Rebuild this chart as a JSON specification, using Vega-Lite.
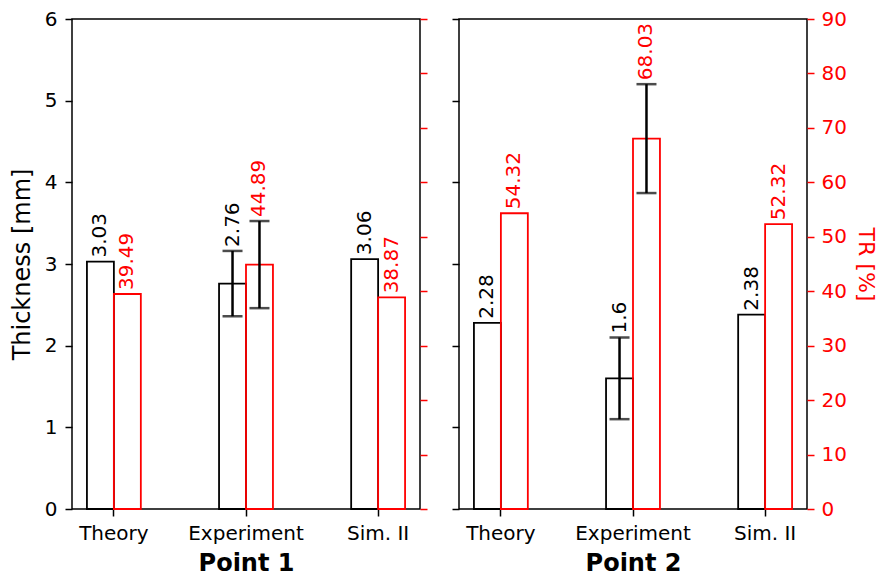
{
  "$schema": "https://vega.github.io/schema/vega-lite/v6.json",
  "padding": {"left": 9, "top": 8, "right": 3, "bottom": 2},
  "spacing": 21,
  "config": {
    "font": "DejaVu Sans",
    "view": {"stroke": "black", "strokeWidth": 1.5},
    "axis": {
      "grid": false, "domain": false,
      "tickColor": "black", "tickWidth": 1.5, "tickSize": 7,
      "labelFont": "DejaVu Sans", "labelFontSize": 20, "labelColor": "black", "labelPadding": 6,
      "titleFont": "DejaVu Sans", "titleFontSize": 24, "titleFontWeight": "normal", "titleColor": "black"
    }
  },
  "data": {"values": [
    {"point": "Point 1", "category": "Theory", "measure": "Thickness", "value": 3.03, "top": 3.03, "label": "3.03"},
    {"point": "Point 1", "category": "Theory", "measure": "TR", "value": 39.49, "top": 39.49, "label": "39.49"},
    {"point": "Point 1", "category": "Experiment", "measure": "Thickness", "value": 2.76, "lo": 2.36, "hi": 3.16, "top": 3.16, "label": "2.76"},
    {"point": "Point 1", "category": "Experiment", "measure": "TR", "value": 44.89, "lo": 36.89, "hi": 52.89, "top": 52.89, "label": "44.89"},
    {"point": "Point 1", "category": "Sim. II", "measure": "Thickness", "value": 3.06, "top": 3.06, "label": "3.06"},
    {"point": "Point 1", "category": "Sim. II", "measure": "TR", "value": 38.87, "top": 38.87, "label": "38.87"},
    {"point": "Point 2", "category": "Theory", "measure": "Thickness", "value": 2.28, "top": 2.28, "label": "2.28"},
    {"point": "Point 2", "category": "Theory", "measure": "TR", "value": 54.32, "top": 54.32, "label": "54.32"},
    {"point": "Point 2", "category": "Experiment", "measure": "Thickness", "value": 1.6, "lo": 1.1, "hi": 2.1, "top": 2.1, "label": "1.6"},
    {"point": "Point 2", "category": "Experiment", "measure": "TR", "value": 68.03, "lo": 58.03, "hi": 78.03, "top": 78.03, "label": "68.03"},
    {"point": "Point 2", "category": "Sim. II", "measure": "Thickness", "value": 2.38, "top": 2.38, "label": "2.38"},
    {"point": "Point 2", "category": "Sim. II", "measure": "TR", "value": 52.32, "top": 52.32, "label": "52.32"}
  ]},
  "hconcat": [
    {
      "width": 348, "height": 490,
      "transform": [{"filter": "datum.point === 'Point 1'"}],
      "encoding": {
        "x": {"field": "category", "type": "nominal", "sort": ["Theory", "Experiment", "Sim. II"], "scale": {"paddingInner": 0.592, "paddingOuter": 0.113},
              "axis": {"title": "Point 1", "labelAngle": 0, "titleFontWeight": "bold", "titleFontSize": 24, "titlePadding": 8, "labelPadding": 7}},
        "xOffset": {"field": "measure", "type": "nominal", "scale": {"domain": ["Thickness", "TR"], "paddingInner": 0, "paddingOuter": 0}}
      },
      "layer": [
        {
          "transform": [{"filter": "datum.measure === 'Thickness'"}],
          "layer": [
            {"mark": {"type": "bar", "fill": "white", "stroke": "black", "strokeWidth": 1.8},
             "encoding": {
               "y": {"field": "value", "type": "quantitative", "scale": {"domain": [0, 6]},
                     "axis": {"title": "Thickness [mm]", "values": [0, 1, 2, 3, 4, 5, 6], "labelPadding": 8, "titlePadding": 10}}
             }},
            {"transform": [{"filter": "isValid(datum.lo)"}],
             "mark": {"type": "rule", "color": "black", "strokeWidth": 2.5},
             "encoding": {
               "y": {"field": "lo", "type": "quantitative", "axis": {"title": "Thickness [mm]", "values": [0, 1, 2, 3, 4, 5, 6], "labelPadding": 8, "titlePadding": 10}},
               "y2": {"field": "hi"}
             }},
            {"transform": [{"filter": "isValid(datum.lo)"}],
             "mark": {"type": "tick", "color": "black", "thickness": 2.5, "size": 20},
             "encoding": {
               "y": {"field": "lo", "type": "quantitative", "axis": {"title": "Thickness [mm]", "values": [0, 1, 2, 3, 4, 5, 6], "labelPadding": 8, "titlePadding": 10}}
             }},
            {"transform": [{"filter": "isValid(datum.lo)"}],
             "mark": {"type": "tick", "color": "black", "thickness": 2.5, "size": 20},
             "encoding": {
               "y": {"field": "hi", "type": "quantitative", "axis": {"title": "Thickness [mm]", "values": [0, 1, 2, 3, 4, 5, 6], "labelPadding": 8, "titlePadding": 10}}
             }},
            {"mark": {"type": "text", "angle": 270, "align": "left", "baseline": "middle", "dx": 4, "fontSize": 20, "color": "black"},
             "encoding": {
               "y": {"field": "top", "type": "quantitative", "axis": {"title": "Thickness [mm]", "values": [0, 1, 2, 3, 4, 5, 6], "labelPadding": 8, "titlePadding": 10}},
               "text": {"field": "label"}
             }}
          ]
        },
        {
          "transform": [{"filter": "datum.measure === 'TR'"}],
          "layer": [
            {"mark": {"type": "bar", "fill": "white", "fillOpacity": 0, "stroke": "red", "strokeWidth": 1.8},
             "encoding": {
               "y": {"field": "value", "type": "quantitative", "scale": {"domain": [0, 90]},
                     "axis": {"orient": "right", "labels": false, "title": null, "tickColor": "red", "values": [0, 10, 20, 30, 40, 50, 60, 70, 80, 90]}}
             }},
            {"transform": [{"filter": "isValid(datum.lo)"}],
             "mark": {"type": "rule", "color": "black", "strokeWidth": 2.5},
             "encoding": {
               "y": {"field": "lo", "type": "quantitative", "axis": {"orient": "right", "labels": false, "title": null, "tickColor": "red", "values": [0, 10, 20, 30, 40, 50, 60, 70, 80, 90]}},
               "y2": {"field": "hi"}
             }},
            {"transform": [{"filter": "isValid(datum.lo)"}],
             "mark": {"type": "tick", "color": "black", "thickness": 2.5, "size": 20},
             "encoding": {
               "y": {"field": "lo", "type": "quantitative", "axis": {"orient": "right", "labels": false, "title": null, "tickColor": "red", "values": [0, 10, 20, 30, 40, 50, 60, 70, 80, 90]}}
             }},
            {"transform": [{"filter": "isValid(datum.lo)"}],
             "mark": {"type": "tick", "color": "black", "thickness": 2.5, "size": 20},
             "encoding": {
               "y": {"field": "hi", "type": "quantitative", "axis": {"orient": "right", "labels": false, "title": null, "tickColor": "red", "values": [0, 10, 20, 30, 40, 50, 60, 70, 80, 90]}}
             }},
            {"mark": {"type": "text", "angle": 270, "align": "left", "baseline": "middle", "dx": 4, "fontSize": 20, "color": "red"},
             "encoding": {
               "y": {"field": "top", "type": "quantitative", "axis": {"orient": "right", "labels": false, "title": null, "tickColor": "red", "values": [0, 10, 20, 30, 40, 50, 60, 70, 80, 90]}},
               "text": {"field": "label"}
             }}
          ]
        }
      ],
      "resolve": {"scale": {"y": "independent"}}
    },
    {
      "width": 348, "height": 490,
      "transform": [{"filter": "datum.point === 'Point 2'"}],
      "encoding": {
        "x": {"field": "category", "type": "nominal", "sort": ["Theory", "Experiment", "Sim. II"], "scale": {"paddingInner": 0.592, "paddingOuter": 0.113},
              "axis": {"title": "Point 2", "labelAngle": 0, "titleFontWeight": "bold", "titleFontSize": 24, "titlePadding": 8, "labelPadding": 7}},
        "xOffset": {"field": "measure", "type": "nominal", "scale": {"domain": ["Thickness", "TR"], "paddingInner": 0, "paddingOuter": 0}}
      },
      "layer": [
        {
          "transform": [{"filter": "datum.measure === 'Thickness'"}],
          "layer": [
            {"mark": {"type": "bar", "fill": "white", "stroke": "black", "strokeWidth": 1.8},
             "encoding": {
               "y": {"field": "value", "type": "quantitative", "scale": {"domain": [0, 6]},
                     "axis": {"title": null, "labels": false, "values": [0, 1, 2, 3, 4, 5, 6]}}
             }},
            {"transform": [{"filter": "isValid(datum.lo)"}],
             "mark": {"type": "rule", "color": "black", "strokeWidth": 2.5},
             "encoding": {
               "y": {"field": "lo", "type": "quantitative", "axis": {"title": null, "labels": false, "values": [0, 1, 2, 3, 4, 5, 6]}},
               "y2": {"field": "hi"}
             }},
            {"transform": [{"filter": "isValid(datum.lo)"}],
             "mark": {"type": "tick", "color": "black", "thickness": 2.5, "size": 20},
             "encoding": {
               "y": {"field": "lo", "type": "quantitative", "axis": {"title": null, "labels": false, "values": [0, 1, 2, 3, 4, 5, 6]}}
             }},
            {"transform": [{"filter": "isValid(datum.lo)"}],
             "mark": {"type": "tick", "color": "black", "thickness": 2.5, "size": 20},
             "encoding": {
               "y": {"field": "hi", "type": "quantitative", "axis": {"title": null, "labels": false, "values": [0, 1, 2, 3, 4, 5, 6]}}
             }},
            {"mark": {"type": "text", "angle": 270, "align": "left", "baseline": "middle", "dx": 4, "fontSize": 20, "color": "black"},
             "encoding": {
               "y": {"field": "top", "type": "quantitative", "axis": {"title": null, "labels": false, "values": [0, 1, 2, 3, 4, 5, 6]}},
               "text": {"field": "label"}
             }}
          ]
        },
        {
          "transform": [{"filter": "datum.measure === 'TR'"}],
          "layer": [
            {"mark": {"type": "bar", "fill": "white", "fillOpacity": 0, "stroke": "red", "strokeWidth": 1.8},
             "encoding": {
               "y": {"field": "value", "type": "quantitative", "scale": {"domain": [0, 90]},
                     "axis": {"orient": "right", "title": "TR [%]", "titleColor": "red", "labelColor": "red", "tickColor": "red", "labelPadding": 7, "titlePadding": 7, "titleFontSize": 22, "values": [0, 10, 20, 30, 40, 50, 60, 70, 80, 90]}}
             }},
            {"transform": [{"filter": "isValid(datum.lo)"}],
             "mark": {"type": "rule", "color": "black", "strokeWidth": 2.5},
             "encoding": {
               "y": {"field": "lo", "type": "quantitative", "axis": {"orient": "right", "title": "TR [%]", "titleColor": "red", "labelColor": "red", "tickColor": "red", "labelPadding": 7, "titlePadding": 7, "titleFontSize": 22, "values": [0, 10, 20, 30, 40, 50, 60, 70, 80, 90]}},
               "y2": {"field": "hi"}
             }},
            {"transform": [{"filter": "isValid(datum.lo)"}],
             "mark": {"type": "tick", "color": "black", "thickness": 2.5, "size": 20},
             "encoding": {
               "y": {"field": "lo", "type": "quantitative", "axis": {"orient": "right", "title": "TR [%]", "titleColor": "red", "labelColor": "red", "tickColor": "red", "labelPadding": 7, "titlePadding": 7, "titleFontSize": 22, "values": [0, 10, 20, 30, 40, 50, 60, 70, 80, 90]}}
             }},
            {"transform": [{"filter": "isValid(datum.lo)"}],
             "mark": {"type": "tick", "color": "black", "thickness": 2.5, "size": 20},
             "encoding": {
               "y": {"field": "hi", "type": "quantitative", "axis": {"orient": "right", "title": "TR [%]", "titleColor": "red", "labelColor": "red", "tickColor": "red", "labelPadding": 7, "titlePadding": 7, "titleFontSize": 22, "values": [0, 10, 20, 30, 40, 50, 60, 70, 80, 90]}}
             }},
            {"mark": {"type": "text", "angle": 270, "align": "left", "baseline": "middle", "dx": 4, "fontSize": 20, "color": "red"},
             "encoding": {
               "y": {"field": "top", "type": "quantitative", "axis": {"orient": "right", "title": "TR [%]", "titleColor": "red", "labelColor": "red", "tickColor": "red", "labelPadding": 7, "titlePadding": 7, "titleFontSize": 22, "values": [0, 10, 20, 30, 40, 50, 60, 70, 80, 90]}},
               "text": {"field": "label"}
             }}
          ]
        }
      ],
      "resolve": {"scale": {"y": "independent"}}
    }
  ]
}
